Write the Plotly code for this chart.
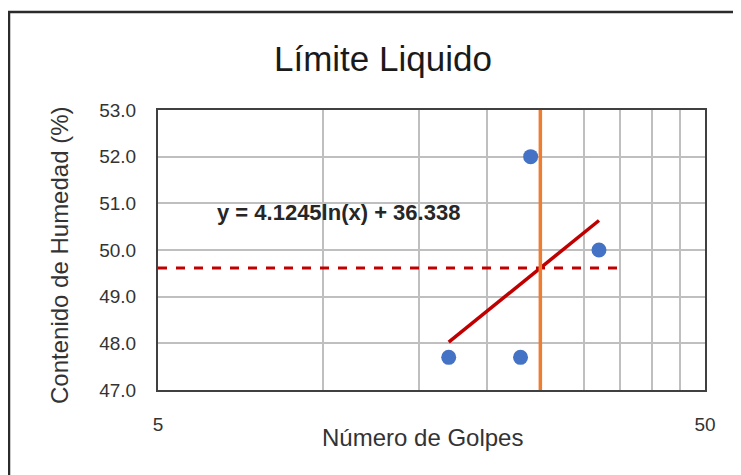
import plotly.graph_objects as go
import math

# Data
golpes = [17, 23, 24, 32]
humedad = [47.7, 47.7, 52.0, 50.0]

# Logarithmic trendline shown on the chart: y = a*ln(x) + b
trend_a = 4.1245
trend_b = 36.338
trend_x = [17, 32]
trend_y = [trend_a * math.log(v) + trend_b for v in trend_x]

n_golpes_ref = 25
ll_value = trend_a * math.log(n_golpes_ref) + trend_b
ll_line_x = [5, 35]

y_ticks = [47, 48, 49, 50, 51, 52, 53]
x_ticks = [5, 50]
x_minor = [10, 15, 20, 25, 30, 35, 40, 45]

# page is offset by the default 8px body margin
OFF = 8
W, H = 741, 475
L, R, T, B = 158, 705, 110, 390
pw, ph = R - L, B - T

def px(xp):
    return (xp - L) / pw

def py(yp):
    return (B - yp) / ph

FONT = "Liberation Sans, Arial, sans-serif"
GRID = "#bfbfbf"

fig = go.Figure()

fig.add_trace(go.Scatter(
    x=golpes, y=humedad, mode="markers",
    marker=dict(color="#4472C4", size=15),
    showlegend=False, hoverinfo="x+y"))

fig.add_trace(go.Scatter(
    x=trend_x, y=trend_y, mode="lines",
    line=dict(color="#C00000", width=3.5),
    showlegend=False))

fig.add_trace(go.Scatter(
    x=ll_line_x, y=[ll_value, ll_value], mode="lines",
    line=dict(color="#C00000", width=3, dash="dash"),
    showlegend=False))

fig.add_trace(go.Scatter(
    x=[n_golpes_ref, n_golpes_ref], y=[y_ticks[0], y_ticks[-1]], mode="lines",
    line=dict(color="#ED7D31", width=3.5),
    showlegend=False))

fig.update_layout(
    width=W - OFF, height=H - OFF,
    margin=dict(l=L - OFF, r=W - R, t=T - OFF, b=H - B, pad=0),
    paper_bgcolor="white", plot_bgcolor="white",
    showlegend=False,
    xaxis=dict(
        type="log",
        range=[math.log10(5), math.log10(50)],
        tickvals=x_ticks, ticktext=[str(v) for v in x_ticks],
        showgrid=True, gridcolor=GRID, gridwidth=1.5,
        minor=dict(tickvals=x_minor, showgrid=True, gridcolor=GRID, gridwidth=1.5, ticks=""),
        ticks="outside", ticklen=16, tickcolor="rgba(0,0,0,0)",
        tickfont=dict(family=FONT, size=19, color="#333333"),
        showline=True, linecolor="#404040", linewidth=2, mirror=True,
        zeroline=False, fixedrange=True,
    ),
    yaxis=dict(
        range=[47, 53],
        tickvals=y_ticks, ticktext=[f"{v:.1f}" for v in y_ticks],
        showgrid=True, gridcolor=GRID, gridwidth=1.5,
        ticks="outside", ticklen=16, tickcolor="rgba(0,0,0,0)",
        tickfont=dict(family=FONT, size=19, color="#333333"),
        showline=True, linecolor="#404040", linewidth=2, mirror=True,
        zeroline=False, fixedrange=True,
    ),
    annotations=[
        dict(text="Límite Liquido", xref="paper", yref="paper",
             x=px(383), y=py(58), xanchor="center", yanchor="middle",
             showarrow=False, font=dict(family=FONT, size=35, color="#1a1a1a")),
        dict(text="Número de Golpes", xref="paper", yref="paper",
             x=px(422), y=py(437), xanchor="center", yanchor="middle",
             showarrow=False, font=dict(family=FONT, size=24, color="#333333")),
        dict(text="Contenido de Humedad (%)", xref="paper", yref="paper",
             x=px(60), y=py(255), xanchor="center", yanchor="middle",
             textangle=-90,
             showarrow=False, font=dict(family=FONT, size=24, color="#333333")),
        dict(text="<b>y = 4.1245ln(x) + 36.338</b>", xref="paper", yref="paper",
             x=px(338), y=py(212), xanchor="center", yanchor="middle",
             showarrow=False, font=dict(family=FONT, size=22, color="#262626")),
    ],
    shapes=[
        dict(type="rect", xref="paper", yref="paper",
             x0=px(9), x1=px(760), y0=py(12), y1=py(500),
             line=dict(color="#2b2b2b", width=2.5), fillcolor="rgba(0,0,0,0)",
             layer="below"),
    ],
)

fig.write_html("out.html")
